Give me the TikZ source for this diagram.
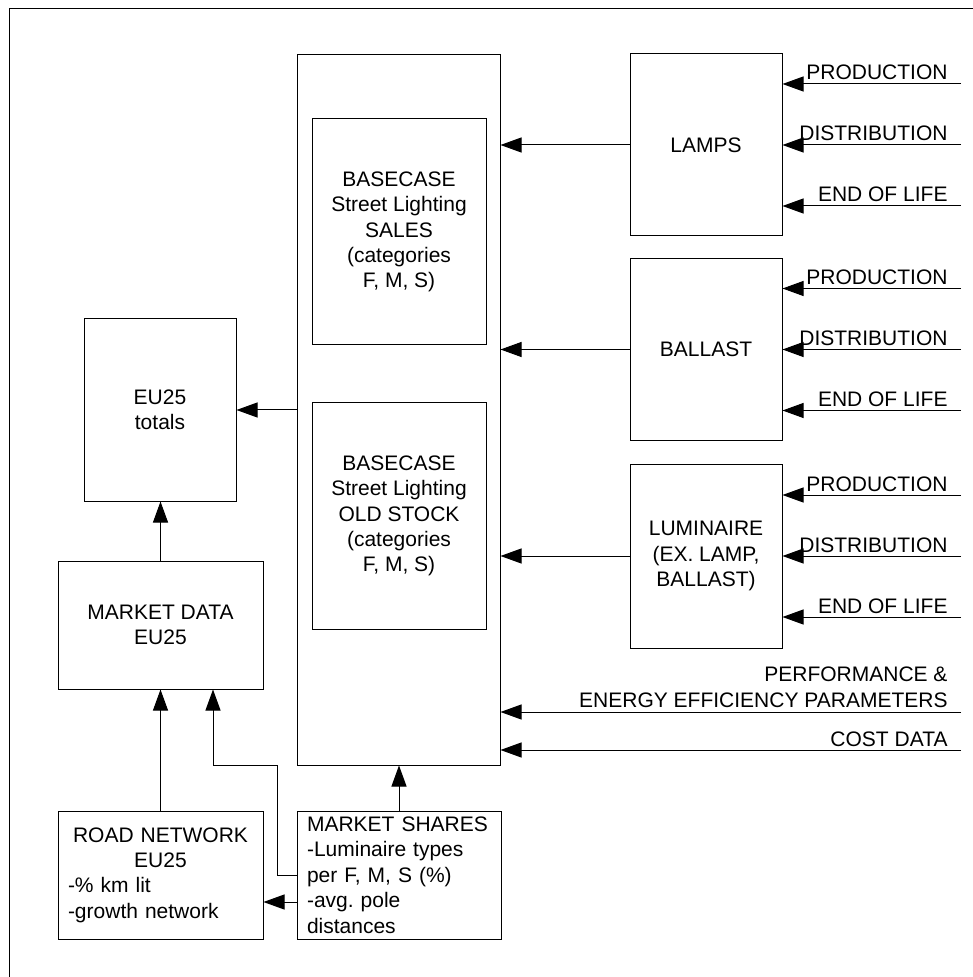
\documentclass[tikz,border=0pt]{standalone}
\usepackage{fontspec}
\setmainfont{Liberation Sans}
\usetikzlibrary{arrows.meta}

\newcommand{\diafont}{\fontsize{10.5pt}{12.7pt}\selectfont\frenchspacing}

\begin{document}
\begin{tikzpicture}
  [x=0.5pt,y=-0.5pt,line width=0.5pt,
   every node/.style={font=\diafont,inner sep=0pt},
   box/.style={draw,rectangle,align=center},
   arr/.style={-{Triangle[length=10.5pt,width=7.5pt]}},
   lbl/.style={anchor=base east}]
  \useasboundingbox (0,0) rectangle (972,977);
  \draw (9,9) rectangle (1000,1000);

  % central block
  \node[box,minimum width=101.5pt,minimum height=355pt] (main) at (398.5,410) {};
  \node[box,minimum width=87pt,minimum height=113pt] (sales) at (399,232)
    {BASECASE\\Street Lighting\\SALES\\(categories\\F, M, S)};
  \node[box,minimum width=87pt,minimum height=113pt] (old) at (399,516)
    {BASECASE\\Street Lighting\\OLD STOCK\\(categories\\F, M, S)};

  % components
  \node[box,minimum width=76pt,minimum height=91pt] (lamps) at (706,145) {LAMPS};
  \node[box,minimum width=76pt,minimum height=90.5pt] (ballast) at (706,349.5) {BALLAST};
  \node[box,minimum width=76pt,minimum height=92pt] (lum) at (706,556)
    {LUMINAIRE\\(EX. LAMP,\\BALLAST)};

  % left side
  \node[box,minimum width=76pt,minimum height=91pt] (totals) at (160,410) {EU25\\totals};
  \node[box,minimum width=102.5pt,minimum height=64pt] (mdata) at (160.5,625)
    {MARKET DATA\\EU25};
  \node[box,align=left,text width=92.5pt,minimum width=102.5pt,minimum height=64pt] (road)
    at (160.5,875) {{\centering ROAD NETWORK\\EU25\par}-\% km lit\\-growth network};
  \node[box,align=left,text width=92pt,minimum width=102pt,minimum height=64pt] (shares)
    at (399,875) {MARKET SHARES\\-Luminaire types\\per F, M, S (\%)\\-avg. pole\\distances};

  \foreach \b in {lamps,ballast,lum}
    \draw[arr] (\b.west) -- (\b.west -| main.east);

  \foreach \b in {lamps,ballast,lum}
    \foreach \dy/\txt [count=\i] in {30.5/PRODUCTION,0/DISTRIBUTION,-30.5/END OF LIFE} {
      \coordinate (\b\i) at ([yshift=\dy pt]\b.east);
      \coordinate (\b src\i) at (\b\i -| 961,0);
      \draw[arr] (\b src\i) -- (\b\i);
      \node[lbl] (\b lbl\i) at ([shift={(-13,-4)}]\b src\i) {\txt};
    }

  \coordinate (perfsrc) at (961,712);
  \coordinate (costsrc) at (961,750);
  \draw[arr] (perfsrc) -- (perfsrc -| main.east);
  \draw[arr] (costsrc) -- (costsrc -| main.east);
  \node[anchor=south east,align=right] (perf) at ([shift={(-13,-4)}]perfsrc)
    {PERFORMANCE \&\\ENERGY EFFICIENCY PARAMETERS};
  \node[lbl] (cost) at ([shift={(-13,-4)}]costsrc) {COST DATA};

  \draw[arr] (main.west) -- (totals.east);
  \draw[arr] (mdata.north) -- (mdata.north |- totals.south);
  \draw[arr] (road.north) -- (road.north |- mdata.south);
  \draw[arr] (shares.north) -- (shares.north |- main.south);
  \draw[arr] ([yshift=-13.5pt]shares.west) -- ([yshift=-13.5pt]shares.west -| road.east);
  \draw[arr] (shares.west) -- ++(-19,0) |- ([xshift=26.25pt]mdata.south |- main.south)
    -- ([xshift=26.25pt]mdata.south);

\end{tikzpicture}
\end{document}
